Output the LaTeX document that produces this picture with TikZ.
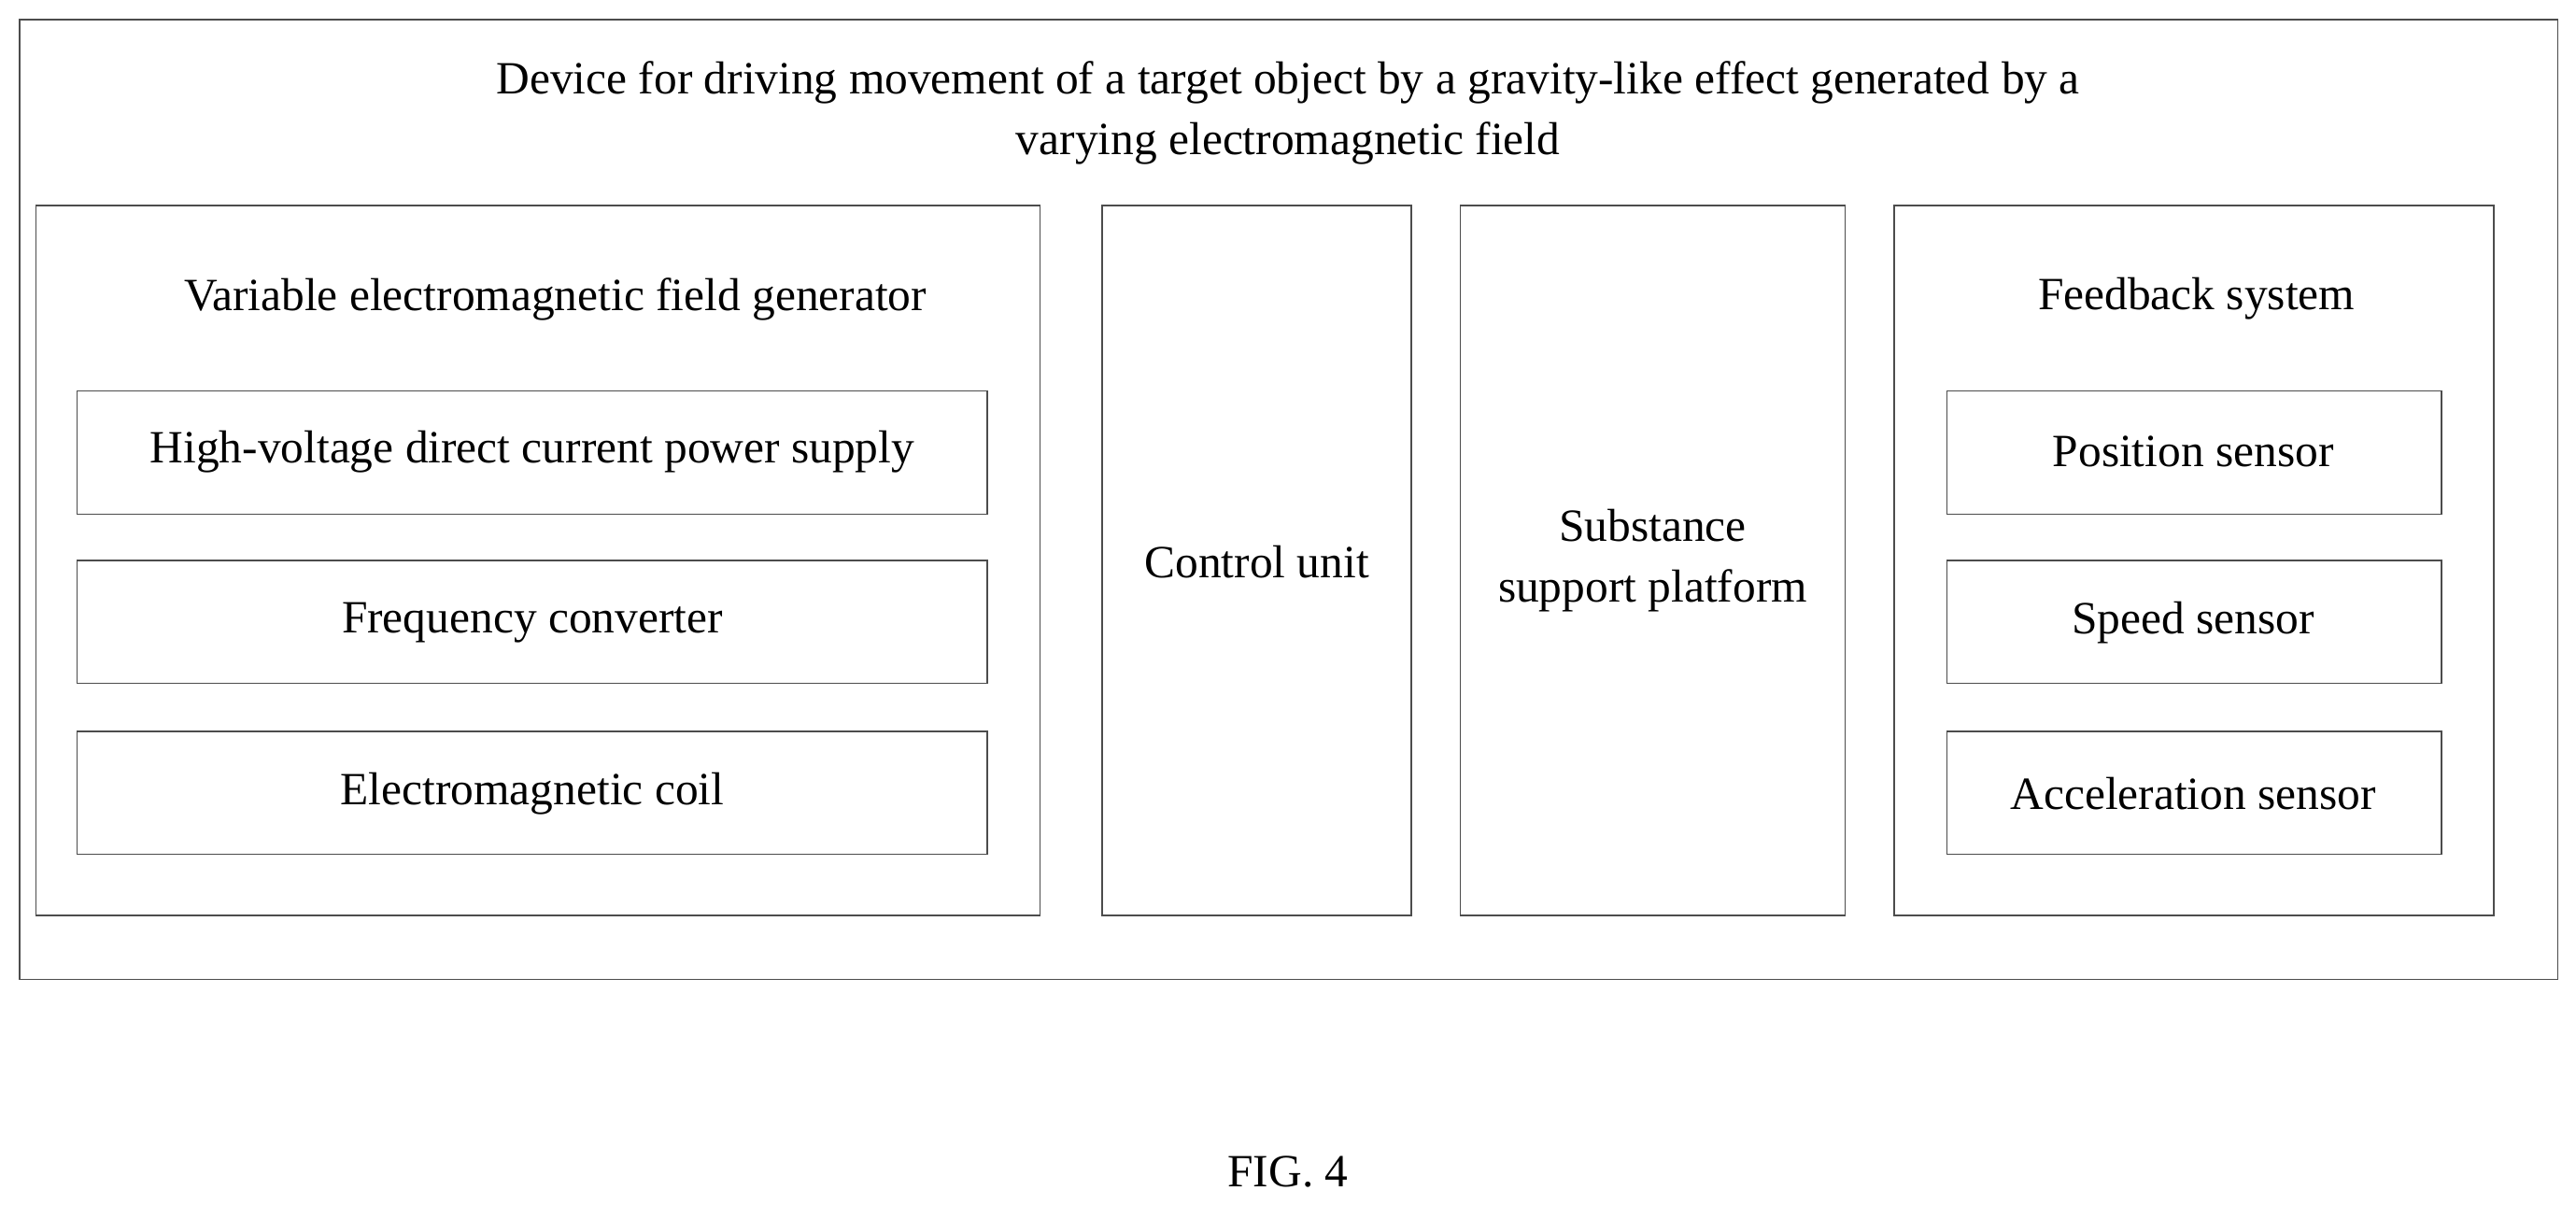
\documentclass[tikz,border=0pt]{standalone}
\usepackage{fontspec}
\setmainfont{Liberation Serif}
\usetikzlibrary{positioning}

\tikzset{
  box/.style={draw=black!70, line width=0.5pt, inner sep=0pt},
  lbl/.style={font=\fontsize{16}{21}\selectfont, align=center}
}

\begin{document}
\begin{tikzpicture}[x=0.02cm, y=-0.02cm]

  \useasboundingbox (0,0) rectangle (1568,733);

  % outer frame
  \draw[box] (12,12) rectangle (1557,596);
  \node[lbl] (title) at (784,69) {Device for driving movement of a target object by a gravity-like effect generated by a\\varying electromagnetic field};

  % field generator
  \draw[box] (22,125) rectangle (633,557);
  \node[lbl] (gen) at (338,182) {Variable electromagnetic field generator};
  \draw[box] (47,238) rectangle (601,313);
  \node[lbl] (hvdc) at (324,275) {High-voltage direct current power supply};
  \draw[box] (47,341) rectangle (601,416);
  \node[lbl] (conv) at (324,379) {Frequency converter};
  \draw[box] (47,445) rectangle (601,520);
  \node[lbl] (coil) at (324,483) {Electromagnetic coil};

  % control unit
  \draw[box] (671,125) rectangle (859,557);
  \node[lbl] (ctrl) at (765,342) {Control unit};

  % platform
  \draw[box] (889,125) rectangle (1123,557);
  \node[lbl] (plat) at (1006,341) {Substance\\support platform};

  % feedback
  \draw[box] (1153,125) rectangle (1518,557);
  \node[lbl] (fb) at (1337,182) {Feedback system};
  \draw[box] (1185,238) rectangle (1486,313);
  \node[lbl] (pos) at (1335,275) {Position sensor};
  \draw[box] (1185,341) rectangle (1486,416);
  \node[lbl] (spd) at (1335,379) {Speed sensor};
  \draw[box] (1185,445) rectangle (1486,520);
  \node[lbl] (acc) at (1335,483) {Acceleration sensor};

  \node[lbl] (fig) at (784,713) {FIG. 4};
\end{tikzpicture}
\end{document}
